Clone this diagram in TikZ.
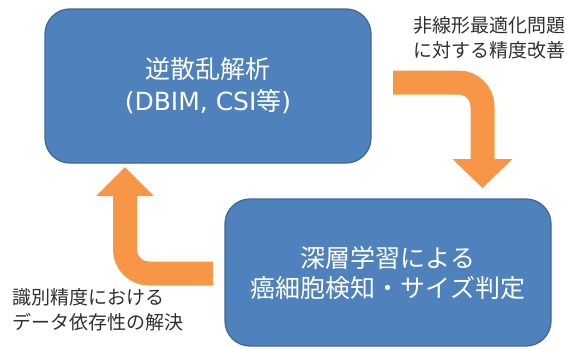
\documentclass[tikz,border=0pt]{standalone}
\usepackage{fontspec}
\setmainfont{Noto Sans CJK JP}
\newfontfamily\latinfont{DejaVu Sans}
\definecolor{boxfill}{HTML}{4F81BD}
\definecolor{boxline}{HTML}{3E6997}
\definecolor{flowcol}{HTML}{F79646}
\definecolor{labtext}{HTML}{303030}
\begin{document}
\begin{tikzpicture}[x=1pt,y=-1pt,
  box/.style={draw=boxline, line width=1.3pt, fill=boxfill, rounded corners=25pt,
    text=white, align=center, font=\fontsize{25}{32}\selectfont, inner sep=0pt},
  lab/.style={text=labtext, align=left, font=\fontsize{19}{25}\selectfont, inner sep=0pt},
  flowline/.style={draw=flowcol, line width=24pt, rounded corners=24pt},
  flowhead/.style={fill=flowcol}]
\useasboundingbox (0,0) rectangle (567,348);
% boxes
\node[box, minimum width=326pt, minimum height=154pt] (b1) at (208,86) {逆散乱解析\\{\latinfont (DBIM, CSI}等{\latinfont )}};
\node[box, minimum width=326pt, minimum height=147pt, font=\fontsize{25}{30}\selectfont] (b2) at (388,272.5) {深層学習による\\癌細胞検知・サイズ判定};
% labels
\node[lab, anchor=west] (l1) at (413,37.5) {非線形最適化問題\\に対する精度改善};
\node[lab, anchor=west] (l2) at (12,310) {識別精度における\\データ依存性の解決};
% arrow 1
\coordinate (a1s) at (393,82.5);
\coordinate (a1c) at (482.5,82.5);
\coordinate (a1e) at (482.5,159.5);
\draw[flowline] (a1s) -- (a1c) -- (a1e);
\fill[flowhead] (452.5,159) -- (512.5,159) -- (482.5,188) -- cycle;
% arrow 2
\coordinate (a2s) at (213,273.5);
\coordinate (a2c) at (125,273.5);
\coordinate (a2e) at (125,195.5);
\draw[flowline] (a2s) -- (a2c) -- (a2e);
\fill[flowhead] (96,196) -- (154,196) -- (125,167) -- cycle;
\end{tikzpicture}
\end{document}
